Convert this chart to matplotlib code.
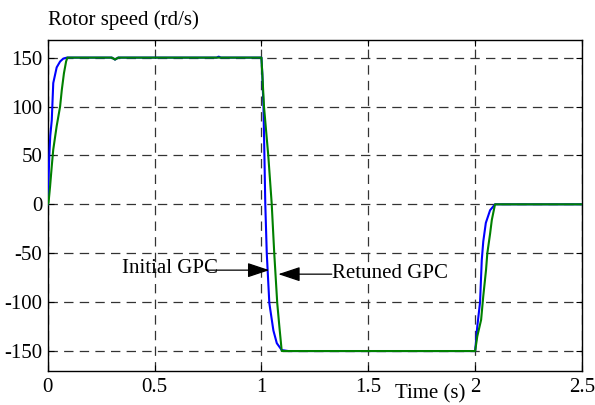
import matplotlib
matplotlib.use("Agg")
import matplotlib.pyplot as plt

# Data
t_initial = [0, 0.0015, 0.0075, 0.012, 0.019, 0.026, 0.042, 0.058, 0.073, 0.09,
             0.30, 0.315, 0.33, 0.79, 0.80, 0.81,
             1.0, 1.004, 1.0095, 1.014, 1.018, 1.025, 1.037, 1.056, 1.072, 1.095, 1.126,
             2.0, 2.01, 2.023, 2.031, 2.038, 2.05, 2.07, 2.093, 2.5]
w_initial = [0, 8, 50, 70, 86, 124, 140, 146, 149, 150,
             150, 148, 150, 150, 151, 150,
             150, 134, 100, 50, 1, -50, -101, -129, -142, -149, -150,
             -150, -125, -100, -57, -38, -19, -6, 0, 0]

t_retuned = [0, 0.004, 0.011, 0.019, 0.026, 0.042, 0.058, 0.066, 0.076, 0.086, 0.092,
             0.30, 0.315, 0.33,
             1.0, 1.004, 1.012, 1.032, 1.048, 1.060, 1.074, 1.084, 1.095,
             2.0, 2.01, 2.028, 2.038, 2.051, 2.057, 2.07, 2.078, 2.093, 2.5]
w_retuned = [0, 2, 18, 39, 56, 80, 100, 117, 134, 146, 150,
             150, 148, 150,
             150, 134, 100, 50, 1, -50, -101, -125, -150,
             -150, -135, -118, -94, -67, -50, -30, -16, 0, 0]

x_ticks = [0, 0.5, 1, 1.5, 2, 2.5]
x_labels = ["0", "0.5", "1", "1.5", "2", "2.5"]
y_ticks = [-150, -100, -50, 0, 50, 100, 150]
y_labels = ["-150", "-100", "-50", "0", "50", "100", "150"]

FS = 15
plt.rcParams['font.family'] = ['Liberation Serif', 'DejaVu Serif']
plt.rcParams['font.size'] = FS

fig = plt.figure(figsize=(5.95, 4.05), dpi=100)
ax = fig.add_axes([47.7/595, 1-370.6/405, (582-47.7)/595, (370.6-40)/405])

ax.plot(t_initial, w_initial, color='#0000FF', lw=1.5, zorder=3)
ax.plot(t_retuned, w_retuned, color='#008000', lw=1.5, zorder=4)

ax.set_xlim(0, 2.5)
ax.set_ylim(-170, 168)
ax.set_xticks(x_ticks)
ax.set_xticklabels(x_labels)
ax.set_yticks(y_ticks)
ax.set_yticklabels(y_labels)
ax.tick_params(direction='in', length=4, width=0.8, top=True, right=True,
               labelsize=FS, colors='black')
ax.tick_params(axis='x', pad=5)
ax.tick_params(axis='y', pad=4)
ax.grid(True, color='#333333', lw=0.9, linestyle=(0, (7.5, 5)))
for s in ax.spines.values():
    s.set_linewidth(1.0)
    s.set_color('black')

fig.text(47.7/595, 1-20/405, "Rotor speed (rd/s)", ha='left', va='center', fontsize=FS)
fig.text(430/595, 1-394/405, "Time (s)", ha='center', va='center', fontsize=FS)

ap = dict(arrowstyle='-|>,head_length=0.9,head_width=0.3', color='black', lw=0.9,
          shrinkA=0, shrinkB=0)
ax.annotate("", xy=(1.037, -67.3), xytext=(0.744, -67.3), arrowprops=ap, zorder=5)
ax.text(0.346, -65.5, "Initial GPC", ha='left', va='center', fontsize=FS, zorder=5)
ax.annotate("", xy=(1.079, -71.4), xytext=(1.329, -71.4), arrowprops=ap, zorder=5)
ax.text(1.33, -70.5, "Retuned GPC", ha='left', va='center', fontsize=FS, zorder=5)

fig.savefig("out.png", dpi=100)
